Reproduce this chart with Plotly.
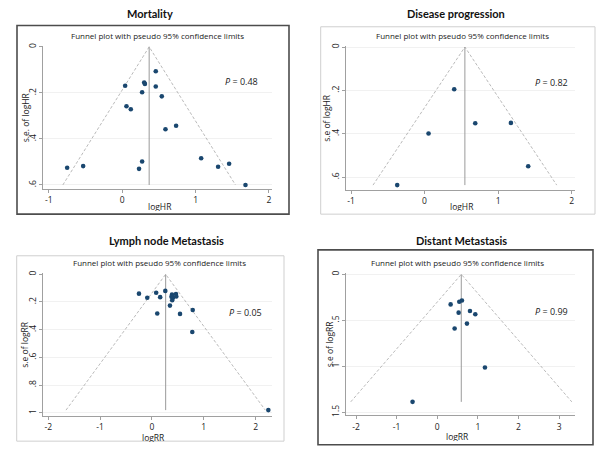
import plotly.graph_objects as go

W, H = 600, 459

# ---------------- data ----------------
panel_titles = ["Mortality", "Disease progression", "Lymph node Metastasis", "Distant Metastasis"]
x_labels = ["logHR", "logHR", "logRR", "logRR"]
y_labels = ["s.e. of logHR", "s.e of logHR", "s.e of logRR", "s.e of logRR"]
p_values = ["0.48", "0.82", "0.05", "0.99"]

mort_x = [0.458, 0.041, 0.300, 0.310, 0.458, 0.272, 0.540, 0.059, 0.118, 0.735, 0.590,
          1.076, 1.457, 1.307, 0.272, 0.230, -0.531, -0.749, 1.680]
mort_se = [0.106, 0.169, 0.155, 0.161, 0.172, 0.197, 0.215, 0.258, 0.271, 0.343, 0.358,
           0.484, 0.508, 0.521, 0.498, 0.530, 0.518, 0.525, 0.600]

prog_x = [0.403, 0.054, 0.689, 1.174, 1.409, -0.372]
prog_se = [0.195, 0.399, 0.352, 0.350, 0.550, 0.637]

lymph_x = [-0.251, -0.091, 0.081, 0.158, 0.257, 0.386, 0.376, 0.405, 0.463, 0.469,
           0.390, 0.347, 0.102, 0.541, 0.786, 0.778, 2.245]
lymph_se = [0.140, 0.169, 0.133, 0.165, 0.120, 0.147, 0.163, 0.170, 0.143, 0.160,
            0.188, 0.226, 0.283, 0.286, 0.258, 0.417, 0.981]

dist_x = [0.329, 0.542, 0.608, 0.526, 0.805, 0.936, 0.731, 0.427, 1.174, -0.608]
dist_se = [0.327, 0.299, 0.284, 0.417, 0.399, 0.435, 0.536, 0.590, 1.014, 1.388]

pooled = [0.368, 0.548, 0.264, 0.591]

x_tickvals = [[-1, 0, 1, 2], [-1, 0, 1, 2], [-2, -1, 0, 1, 2], [-2, -1, 0, 1, 2, 3]]
y_tickvals = [[0, 0.2, 0.4, 0.6], [0, 0.2, 0.4, 0.6], [0, 0.2, 0.4, 0.6, 0.8, 1.0], [0, 0.5, 1.0, 1.5]]
y_ticktext = [["0", ".2", ".4", ".6"], ["0", ".2", ".4", ".6"],
              ["0", ".2", ".4", ".6", ".8", "1"], ["0", ".5", "1", "1.5"]]

xs = [mort_x, prog_x, lymph_x, dist_x]
ses = [mort_se, prog_se, lymph_se, dist_se]

# ---------------- layout geometry (pixels) ----------------
plot_px = [  # left, right, top, bottom
    (43.3, 271.7, 43.3, 187.3),
    (346.0, 575.0, 43.3, 188.3),
    (43.3, 271.7, 272.7, 416.7),
    (346.0, 575.0, 272.7, 416.0),
]
x_ranges = [[-1.074, 2.037], [-1.068, 2.045], [-2.097, 2.31], [-2.246, 3.39]]
y_ranges = [[0.616, -0.004], [0.658, -0.005], [1.024, -0.007], [1.535, -0.011]]

boxes = [  # x0, x1, y0(top), y1(bottom), color, width
    (17, 289, 22.7, 213, "#4d4d4d", 1.6),
    (320.7, 595, 24, 213, "#cfcfcf", 1),
    (16.7, 284, 255, 442, "#cfcfcf", 1),
    (318, 593, 249, 445.7, "#4d4d4d", 1.6),
]

text_pos = [
    # title, subtitle, P (left), ytitle, xtitle
    [(150, 11), (158, 32.7), (223, 79), (25, 115.3), (160, 205)],
    [(456, 11), (463, 33), (533, 80), (327, 115.8), (462, 205)],
    [(166, 240), (159, 261.7), (227, 312), (25, 344.7), (153, 437.5)],
    [(461, 240), (457, 261.7), (533, 311), (329, 344.3), (457, 437)],
]


def px(x):
    return x / W


def py(y):
    return 1 - y / H


FONT = "Open Sans"
TXT = "#222222"
MARK = "#1a476f"

fig = go.Figure()
annotations = []
shapes = []

for i in range(4):
    n = "" if i == 0 else str(i + 1)
    xa, ya = "x" + n, "y" + n
    c = pooled[i]
    smax = max(ses[i])
    # pseudo 95% CI funnel
    fig.add_trace(go.Scatter(
        x=[c - 1.96 * smax, c, c + 1.96 * smax], y=[smax, 0, smax],
        mode="lines", line=dict(color="#a8a8a8", width=0.8, dash="3px,2px"),
        xaxis=xa, yaxis=ya, showlegend=False, hoverinfo="skip"))
    # pooled estimate line
    fig.add_trace(go.Scatter(
        x=[c, c], y=[0, smax], mode="lines",
        line=dict(color="#9a9a9a", width=1),
        xaxis=xa, yaxis=ya, showlegend=False, hoverinfo="skip"))
    # studies
    fig.add_trace(go.Scatter(
        x=xs[i], y=ses[i], mode="markers",
        marker=dict(color=MARK, size=4.6),
        xaxis=xa, yaxis=ya, showlegend=False))

    l, r, t, b = plot_px[i]
    axis_common = dict(showline=True, linecolor="#a0a0a0", linewidth=1,
                       ticks="outside", ticklen=3, tickcolor="#a0a0a0",
                       tickfont=dict(family=FONT, size=8.5, color=TXT),
                       zeroline=False)
    fig.layout["xaxis" + n] = dict(
        domain=[px(l), px(r)], range=x_ranges[i], anchor=ya,
        tickvals=x_tickvals[i], ticktext=[str(v) for v in x_tickvals[i]],
        showgrid=False, **axis_common)
    fig.layout["yaxis" + n] = dict(
        domain=[py(b), py(t)], range=y_ranges[i], anchor=xa,
        tickvals=y_tickvals[i], ticktext=y_ticktext[i], tickangle=-90,
        showgrid=True, gridcolor="#f1f1f1", gridwidth=1, **axis_common)

    x0, x1, y0, y1, col, wd = boxes[i]
    shapes.append(dict(type="rect", xref="paper", yref="paper",
                       x0=px(x0), x1=px(x1), y0=py(y1), y1=py(y0),
                       line=dict(color=col, width=wd)))

    tp = text_pos[i]
    annotations.append(dict(text="<b>" + panel_titles[i] + "</b>", x=px(tp[0][0]), y=py(tp[0][1]),
                            xref="paper", yref="paper", showarrow=False,
                            xanchor="center", yanchor="middle",
                            font=dict(family="Lato", size=11, color="#111111")))
    annotations.append(dict(text="Funnel plot with pseudo 95% confidence limits",
                            x=px(tp[1][0]), y=py(tp[1][1]), xref="paper", yref="paper",
                            showarrow=False, xanchor="center", yanchor="middle",
                            font=dict(family=FONT, size=8, color=TXT)))
    annotations.append(dict(text="<i>P</i> = " + p_values[i],
                            x=px(tp[2][0]), y=py(tp[2][1]), xref="paper", yref="paper",
                            showarrow=False, xanchor="left", yanchor="middle",
                            font=dict(family=FONT, size=9, color=TXT)))
    annotations.append(dict(text=y_labels[i], x=px(tp[3][0]), y=py(tp[3][1]),
                            xref="paper", yref="paper", showarrow=False, textangle=-90,
                            xanchor="center", yanchor="middle",
                            font=dict(family=FONT, size=8.5, color=TXT)))
    annotations.append(dict(text=x_labels[i], x=px(tp[4][0]), y=py(tp[4][1]),
                            xref="paper", yref="paper", showarrow=False,
                            xanchor="center", yanchor="middle", height=10,
                            font=dict(family=FONT, size=8.5, color=TXT)))

fig.update_layout(width=W, height=H, autosize=False,
                  margin=dict(l=0, r=0, t=0, b=0),
                  paper_bgcolor="white", plot_bgcolor="white",
                  annotations=annotations, shapes=shapes)

fig.write_html("out.html", config={"displayModeBar": False},
               post_script="document.body.style.margin='0';document.body.style.overflow='hidden';")
